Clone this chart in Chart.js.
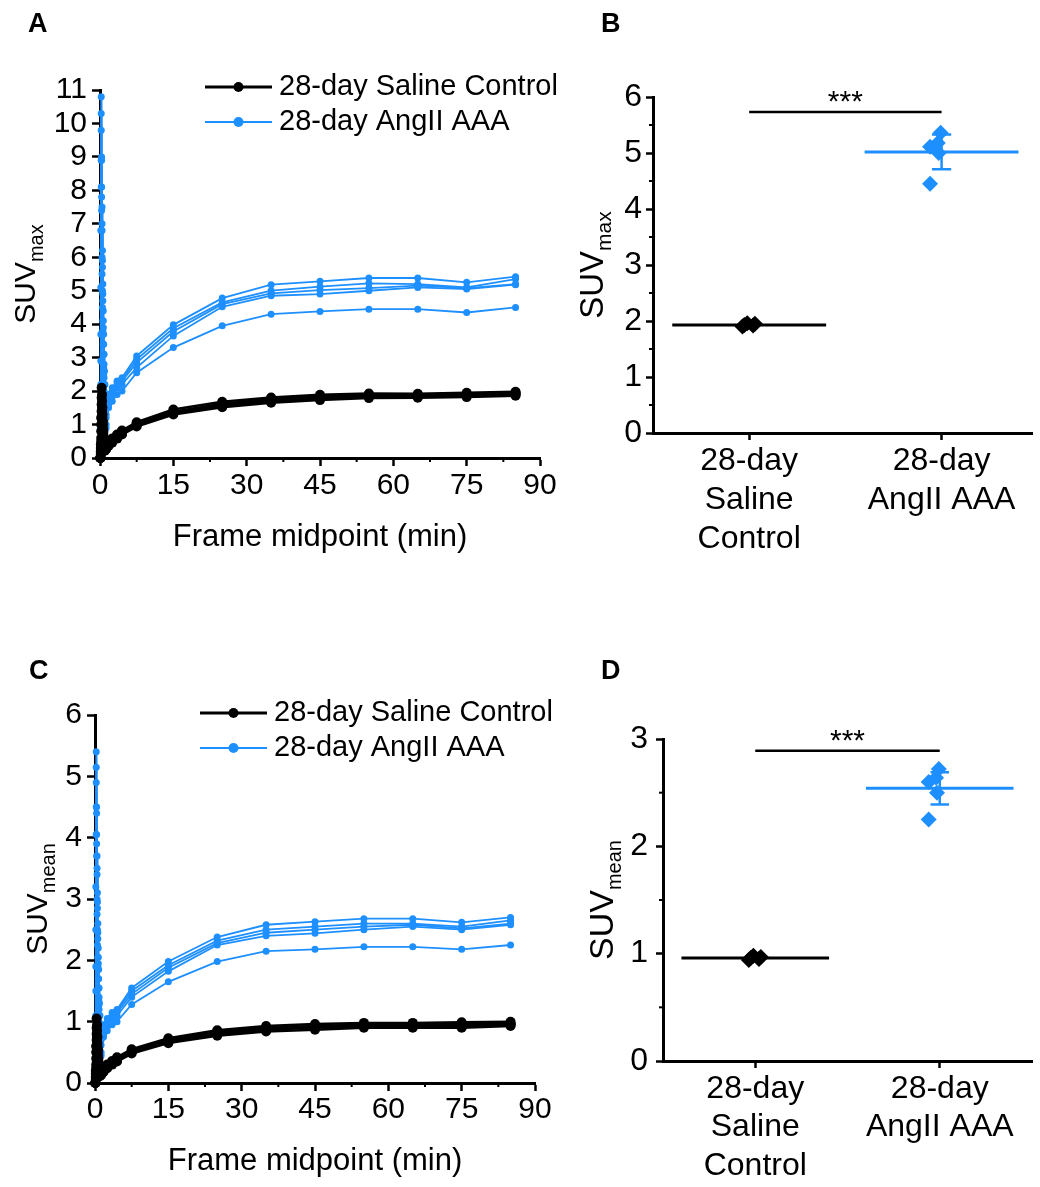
<!DOCTYPE html>
<html>
<head>
<meta charset="utf-8">
<title>SUV time-activity curves</title>
<script src="https://cdn.jsdelivr.net/npm/chart.js@4.4.1/dist/chart.umd.min.js"></script>
<style>
  body { margin: 0; background: #fff; }
  #page { position: relative; width: 1040px; height: 1187px; overflow: hidden; background: #fff; }
  canvas { position: absolute; }
</style>
</head>
<body>
<div id="page">
  <canvas id="chartA" width="570" height="600" style="left:0;top:0"></canvas>
  <canvas id="chartB" width="470" height="600" style="left:570px;top:0"></canvas>
  <canvas id="chartC" width="570" height="567" style="left:0;top:620px"></canvas>
  <canvas id="chartD" width="470" height="567" style="left:570px;top:620px"></canvas>
</div>
<script>
// frame midpoints (min)
var frameMid = [0.08, 0.17, 0.25, 0.33, 0.42, 0.5, 0.58, 0.67, 0.75, 0.83, 0.92, 1.0, 1.25, 1.75, 2.5, 3.5, 4.5, 7.5, 15, 25, 35, 45, 55, 65, 75, 85];

// SUVmax, saline mice
var salineMax1 = [0.0, 0.4, 1.2, 2.1, 1.9, 1.5, 1.1, 0.8, 0.6, 0.45, 0.35, 0.3, 0.35, 0.45, 0.58, 0.7, 0.82, 1.07, 1.45, 1.68, 1.81, 1.89, 1.93, 1.92, 1.95, 1.98];
var salineMax2 = [0.0, 0.3, 1.0, 1.8, 1.7, 1.3, 1.0, 0.75, 0.55, 0.42, 0.33, 0.28, 0.32, 0.42, 0.55, 0.68, 0.78, 1.02, 1.38, 1.62, 1.76, 1.84, 1.88, 1.88, 1.9, 1.95];
var salineMax3 = [0.0, 0.2, 0.8, 1.6, 1.5, 1.2, 0.9, 0.7, 0.52, 0.4, 0.32, 0.26, 0.3, 0.4, 0.52, 0.65, 0.76, 1.0, 1.36, 1.6, 1.72, 1.8, 1.85, 1.86, 1.88, 1.92];
var salineMax4 = [0.0, 0.15, 0.6, 1.4, 1.35, 1.1, 0.85, 0.65, 0.5, 0.38, 0.3, 0.25, 0.28, 0.38, 0.5, 0.63, 0.74, 0.98, 1.34, 1.56, 1.7, 1.78, 1.83, 1.84, 1.86, 1.9];
var salineMax5 = [0.0, 0.1, 0.5, 1.2, 1.2, 1.0, 0.8, 0.6, 0.46, 0.35, 0.28, 0.22, 0.26, 0.36, 0.46, 0.58, 0.7, 0.94, 1.3, 1.52, 1.65, 1.73, 1.79, 1.8, 1.82, 1.86];

// SUVmax, AngII AAA mice
var aaaMax1 = [0.9, 6.8, 10.8, 9.0, 7.5, 6.2, 5.2, 4.4, 3.7, 3.1, 2.6, 2.2, 1.6, 1.9, 2.1, 2.3, 2.4, 3.05, 3.98, 4.78, 5.18, 5.28, 5.38, 5.38, 5.25, 5.42];
var aaaMax2 = [0.6, 5.1, 10.3, 8.9, 7.0, 5.9, 4.9, 4.1, 3.4, 2.8, 2.2, 1.5, 1.2, 1.8, 2.0, 2.25, 2.35, 2.95, 3.88, 4.65, 5.0, 5.12, 5.22, 5.2, 5.1, 5.35];
var aaaMax3 = [0.5, 3.7, 9.8, 8.1, 6.8, 5.7, 4.7, 3.9, 3.1, 2.4, 1.7, 0.9, 1.3, 1.75, 1.95, 2.15, 2.3, 2.85, 3.78, 4.6, 4.92, 5.02, 5.08, 5.15, 5.08, 5.2];
var aaaMax4 = [0.4, 2.9, 8.9, 7.8, 6.0, 5.0, 4.1, 3.4, 2.7, 2.0, 1.3, 0.6, 1.0, 1.6, 1.85, 2.1, 2.2, 2.7, 3.65, 4.52, 4.85, 4.9, 5.0, 5.1, 5.05, 5.18];
var aaaMax5 = [0.3, 2.2, 8.1, 7.4, 5.5, 4.5, 3.8, 3.1, 2.5, 1.9, 1.2, 0.5, 0.9, 1.5, 1.7, 1.9, 2.0, 2.55, 3.3, 3.95, 4.3, 4.38, 4.45, 4.45, 4.35, 4.5];

// SUVmean, saline mice
var salineMean1 = [0, 0.2, 0.6, 1.05, 0.95, 0.75, 0.55, 0.4, 0.3, 0.23, 0.18, 0.15, 0.18, 0.23, 0.3, 0.36, 0.42, 0.55, 0.73, 0.86, 0.93, 0.96, 0.98, 0.98, 0.99, 1.0];
var salineMean2 = [0, 0.15, 0.5, 0.9, 0.85, 0.65, 0.5, 0.38, 0.28, 0.21, 0.17, 0.14, 0.16, 0.21, 0.28, 0.34, 0.39, 0.52, 0.7, 0.83, 0.9, 0.93, 0.95, 0.96, 0.96, 0.97];
var salineMean3 = [0, 0.1, 0.4, 0.8, 0.75, 0.6, 0.45, 0.35, 0.26, 0.2, 0.16, 0.13, 0.15, 0.2, 0.27, 0.33, 0.38, 0.51, 0.68, 0.81, 0.88, 0.92, 0.94, 0.94, 0.94, 0.96];
var salineMean4 = [0, 0.08, 0.3, 0.7, 0.68, 0.55, 0.42, 0.32, 0.25, 0.19, 0.15, 0.12, 0.14, 0.19, 0.26, 0.32, 0.37, 0.5, 0.67, 0.8, 0.87, 0.9, 0.93, 0.93, 0.93, 0.95];
var salineMean5 = [0, 0.05, 0.25, 0.6, 0.6, 0.5, 0.4, 0.3, 0.23, 0.18, 0.14, 0.11, 0.13, 0.18, 0.24, 0.3, 0.35, 0.48, 0.65, 0.77, 0.84, 0.87, 0.9, 0.9, 0.9, 0.93];

// SUVmean, AngII AAA mice
var aaaMean1 = [0.5, 3.2, 5.4, 4.5, 3.7, 3.1, 2.6, 2.2, 1.85, 1.55, 1.3, 1.1, 0.85, 0.95, 1.05, 1.15, 1.2, 1.55, 1.98, 2.38, 2.58, 2.63, 2.68, 2.68, 2.62, 2.7];
var aaaMean2 = [0.35, 2.5, 5.15, 4.4, 3.5, 2.95, 2.45, 2.05, 1.7, 1.4, 1.1, 0.8, 0.7, 0.9, 1.0, 1.1, 1.18, 1.5, 1.92, 2.32, 2.5, 2.55, 2.6, 2.6, 2.55, 2.65];
var aaaMean3 = [0.3, 1.9, 4.9, 4.05, 3.4, 2.85, 2.35, 1.95, 1.55, 1.2, 0.85, 0.5, 0.62, 0.85, 0.98, 1.08, 1.15, 1.45, 1.88, 2.28, 2.45, 2.5, 2.55, 2.58, 2.52, 2.6];
var aaaMean4 = [0.25, 1.5, 4.5, 3.9, 3.0, 2.5, 2.05, 1.7, 1.35, 1.0, 0.65, 0.3, 0.5, 0.8, 0.92, 1.05, 1.1, 1.4, 1.82, 2.25, 2.4, 2.44, 2.5, 2.55, 2.5, 2.58];
var aaaMean5 = [0.2, 1.1, 4.05, 3.7, 2.75, 2.25, 1.9, 1.55, 1.25, 0.95, 0.6, 0.25, 0.45, 0.75, 0.85, 0.95, 1.0, 1.28, 1.65, 1.98, 2.15, 2.18, 2.22, 2.22, 2.18, 2.25];

// per-mouse values and group stats for the dot plots
var maxSalinePts = [1.90, 1.93, 1.96, 1.92, 1.95];
var maxAaaPts = [5.11, 5.18, 5.36, 5.00, 4.45];
var maxGroupMean = [1.93, 5.02];
var maxGroupSD = [0.03, 0.31];
var maxSigY = 5.73;

var meanSalinePts = [0.94, 0.96, 0.98, 0.95, 0.97];
var meanAaaPts = [2.60, 2.64, 2.72, 2.50, 2.25];
var meanGroupMean = [0.96, 2.54];
var meanGroupSD = [0.02, 0.15];
var meanSigY = 2.89;

// names and tick labels
var groupNames = ['28-day Saline Control', '28-day AngII AAA'];
var groupLabels = [['28-day', 'Saline', 'Control'], ['28-day', 'AngII AAA']];
var timeTicks = [0, 15, 30, 45, 60, 75, 90];
var suvMaxTicks = [0, 1, 2, 3, 4, 5, 6, 7, 8, 9, 10, 11];
var suvMaxDotTicks = [0, 1, 2, 3, 4, 5, 6];
var suvMeanTicks = [0, 1, 2, 3, 4, 5, 6];
var suvMeanDotTicks = [0, 1, 2, 3];

var BLACK = '#000000';
var BLUE = '#1e8fff';
var FONT = "'Liberation Sans', Arial, Helvetica, sans-serif";
var salineJit = [-0.035, -0.025, -0.01, 0.02, 0.03];
var aaaJit = [-0.06, -0.02, -0.005, -0.015, -0.06];
var MEAN_HALF = 0.4;
var CAP_HALF = 0.05;

// letters, y titles with subscript, minor ticks, legend and stars
var decorPlugin = {
  id: 'decor',
  afterDraw: function (chart, args, o) {
    var ctx = chart.ctx;
    var area = chart.chartArea;
    ctx.save();
    ctx.fillStyle = BLACK;
    ctx.strokeStyle = BLACK;
    ctx.textAlign = 'left';
    ctx.textBaseline = 'alphabetic';

    ctx.font = 'bold 27px ' + FONT;
    ctx.fillText(o.letter[0], o.letter[1], o.letter[2]);

    var t = o.yTitle;
    ctx.font = t.size + 'px ' + FONT;
    var w1 = ctx.measureText('SUV').width;
    ctx.font = t.subSize + 'px ' + FONT;
    var w2 = ctx.measureText(t.sub).width;
    ctx.save();
    ctx.translate(t.x, (area.top + area.bottom) / 2 + (w1 + w2) / 2);
    ctx.rotate(-Math.PI / 2);
    ctx.font = t.size + 'px ' + FONT;
    ctx.fillText('SUV', 0, 0);
    ctx.font = t.subSize + 'px ' + FONT;
    ctx.fillText(t.sub, w1, t.drop);
    ctx.restore();

    (o.minor || []).forEach(function (m) {
      var sc = chart.scales[m.axis];
      ctx.lineWidth = 2;
      for (var v = sc.min + m.step; v < sc.max - 1e-6; v += m.step) {
        if (Math.abs(v / m.major - Math.round(v / m.major)) < 1e-6) continue;
        var p = sc.getPixelForValue(v);
        ctx.beginPath();
        if (m.axis === 'x') {
          ctx.moveTo(p, area.bottom); ctx.lineTo(p, area.bottom + m.len);
        } else {
          ctx.moveTo(area.left, p); ctx.lineTo(area.left - m.len, p);
        }
        ctx.stroke();
      }
    });

    if (o.legend) {
      var L = o.legend;
      ctx.font = L.size + 'px ' + FONT;
      ctx.textBaseline = 'middle';
      L.items.forEach(function (it, i) {
        var y = L.y + i * L.dy;
        ctx.strokeStyle = it.color;
        ctx.fillStyle = it.color;
        ctx.lineWidth = it.width;
        ctx.beginPath(); ctx.moveTo(L.x0, y); ctx.lineTo(L.x1, y); ctx.stroke();
        ctx.beginPath(); ctx.arc((L.x0 + L.x1) / 2, y, it.radius, 0, Math.PI * 2); ctx.fill();
        ctx.fillStyle = BLACK;
        ctx.fillText(it.label, L.textX, y);
      });
    }

    if (o.sig) {
      var xs = chart.scales.x, ys = chart.scales.y;
      ctx.font = '30px ' + FONT;
      ctx.textAlign = 'center';
      ctx.textBaseline = 'alphabetic';
      ctx.fillStyle = BLACK;
      ctx.fillText('***', (xs.getPixelForValue(0) + xs.getPixelForValue(1)) / 2, ys.getPixelForValue(o.sig.y) + o.sig.dy);
    }
    ctx.restore();
  }
};

function axisStyle(tickList, size, pad, len) {
  return {
    type: 'linear',
    min: tickList[0],
    max: tickList[tickList.length - 1],
    afterBuildTicks: function (s) { s.ticks = tickList.map(function (v) { return { value: v }; }); },
    ticks: { color: BLACK, font: { family: FONT, size: size }, padding: pad, maxRotation: 0, autoSkip: false },
    grid: { display: true, drawOnChartArea: false, drawTicks: true, tickLength: len, tickWidth: 2.5, tickColor: BLACK },
    border: { display: true, color: BLACK, width: 3 }
  };
}

function curveSets(series, color, lw, r) {
  return series.map(function (vals) {
    return {
      data: frameMid.map(function (t, i) { return { x: t, y: vals[i] }; }),
      showLine: true, borderColor: color, backgroundColor: color, borderWidth: lw,
      pointRadius: r, pointBorderWidth: 0, pointHoverRadius: r, clip: false
    };
  });
}

function segment(x0, x1, y0, y1, color, lw) {
  return {
    data: [{ x: x0, y: y0 }, { x: x1, y: y1 }],
    showLine: true, borderColor: color, borderWidth: lw, pointRadius: 0, clip: false
  };
}

function groupSets(pts, jit, g, mean, sd, color) {
  return [
    segment(g - MEAN_HALF, g + MEAN_HALF, mean, mean, color, 3),
    segment(g, g, mean - sd, mean + sd, color, 2.5),
    segment(g - CAP_HALF, g + CAP_HALF, mean + sd, mean + sd, color, 2.5),
    segment(g - CAP_HALF, g + CAP_HALF, mean - sd, mean - sd, color, 2.5),
    {
      data: pts.map(function (v, i) { return { x: g + jit[i], y: v }; }),
      pointStyle: 'rectRot', pointRadius: 8, pointHoverRadius: 8,
      backgroundColor: color, borderColor: color, borderWidth: 0, clip: false
    }
  ];
}

function legendItems() {
  return [
    { label: groupNames[0], color: BLACK, width: 3, radius: 5 },
    { label: groupNames[1], color: BLUE, width: 2, radius: 5 }
  ];
}

function curveChart(id, saline, aaa, yTicks, cfg) {
  var x = axisStyle(timeTicks, 30, cfg.xPad, 8);
  x.title = { display: true, text: 'Frame midpoint (min)', color: BLACK, font: { family: FONT, size: 31 }, padding: { top: 0, bottom: cfg.titlePad } };
  x.afterFit = function (s) { s.height = cfg.xHeight; };
  var y = axisStyle(yTicks, 30, 5, 8);
  y.afterFit = function (s) { s.width = cfg.yWidth; };

  return new Chart(document.getElementById(id), {
    type: 'scatter',
    data: { datasets: curveSets(saline, BLACK, 2.5, 5).concat(curveSets(aaa, BLUE, 1.8, 3.5)) },
    options: {
      responsive: false, animation: false, events: [],
      layout: { padding: { left: 0, top: cfg.top, right: cfg.right, bottom: 0 } },
      elements: { line: { tension: 0 } },
      plugins: {
        legend: { display: false }, tooltip: { enabled: false },
        decor: {
          letter: cfg.letter,
          yTitle: cfg.yTitle,
          minor: [{ axis: 'x', step: 7.5, major: 15, len: 4 }],
          legend: { x0: cfg.legend[0], x1: cfg.legend[1], textX: cfg.legend[2], y: cfg.legend[3], dy: 35, size: 29, items: legendItems() }
        }
      },
      scales: { x: x, y: y }
    },
    plugins: [decorPlugin]
  });
}

function dotChart(id, salinePts, aaaPts, mean, sd, sigY, yTicks, cfg) {
  var x = {
    type: 'linear', min: cfg.xRange[0], max: cfg.xRange[1],
    afterBuildTicks: function (s) { s.ticks = groupLabels.map(function (l, i) { return { value: i }; }); },
    ticks: {
      color: BLACK, font: { family: FONT, size: 32, lineHeight: cfg.lineH }, padding: cfg.xPad,
      maxRotation: 0, autoSkip: false,
      callback: function (v) { return groupLabels[v]; }
    },
    grid: { display: true, drawOnChartArea: false, drawTicks: true, tickLength: 7, tickWidth: 2.5, tickColor: BLACK },
    border: { display: true, color: BLACK, width: 3 },
    afterFit: function (s) { s.height = cfg.xHeight; }
  };
  var y = axisStyle(yTicks, 32, cfg.yPad, 7);
  y.afterFit = function (s) { s.width = cfg.yWidth; };

  var sets = [segment(0, 1, sigY, sigY, BLACK, 2.5)]
    .concat(groupSets(salinePts, salineJit, 0, mean[0], sd[0], BLACK))
    .concat(groupSets(aaaPts, aaaJit, 1, mean[1], sd[1], BLUE));

  return new Chart(document.getElementById(id), {
    type: 'scatter',
    data: { datasets: sets },
    options: {
      responsive: false, animation: false, events: [],
      layout: { padding: { left: 0, top: cfg.top, right: cfg.right, bottom: 0 } },
      plugins: {
        legend: { display: false }, tooltip: { enabled: false },
        decor: {
          letter: cfg.letter,
          yTitle: cfg.yTitle,
          minor: [{ axis: 'y', step: 0.5, major: 1, len: 4 }],
          sig: { y: sigY, dy: -1 }
        }
      },
      scales: { x: x, y: y }
    },
    plugins: [decorPlugin]
  });
}

curveChart('chartA',
  [salineMax1, salineMax2, salineMax3, salineMax4, salineMax5],
  [aaaMax1, aaaMax2, aaaMax3, aaaMax4, aaaMax5],
  suvMaxTicks,
  { top: 90, right: 30, yWidth: 100, xHeight: 142, xPad: 2, titlePad: 44,
    letter: ['A', 28, 32],
    yTitle: { x: 35, size: 30, subSize: 20, sub: 'max', drop: 8 },
    legend: [205, 272, 279, 87] });

dotChart('chartB', maxSalinePts, maxAaaPts, maxGroupMean, maxGroupSD, maxSigY, suvMaxDotTicks,
  { top: 97, right: 0, yWidth: 83, xHeight: 167, xPad: 1.5, yPad: 4, lineH: 1.22, xRange: [-0.5, 1.47],
    letter: ['B', 31, 32],
    yTitle: { x: 33, size: 33, subSize: 21, sub: 'max', drop: 8 } });

curveChart('chartC',
  [salineMean1, salineMean2, salineMean3, salineMean4, salineMean5],
  [aaaMean1, aaaMean2, aaaMean3, aaaMean4, aaaMean5],
  suvMeanTicks,
  { top: 95, right: 35, yWidth: 95, xHeight: 104, xPad: 1, titlePad: 7,
    letter: ['C', 29, 59],
    yTitle: { x: 47, size: 30, subSize: 20, sub: 'mean', drop: 8 },
    legend: [200, 267, 274, 93] });

dotChart('chartD', meanSalinePts, meanAaaPts, meanGroupMean, meanGroupSD, meanSigY, suvMeanDotTicks,
  { top: 119, right: 7, yWidth: 93, xHeight: 126, xPad: 2, yPad: 8, lineH: 1.2, xRange: [-0.5, 1.5],
    letter: ['D', 31, 59],
    yTitle: { x: 43, size: 34, subSize: 20, sub: 'mean', drop: 8 } });
</script>
</body>
</html>
